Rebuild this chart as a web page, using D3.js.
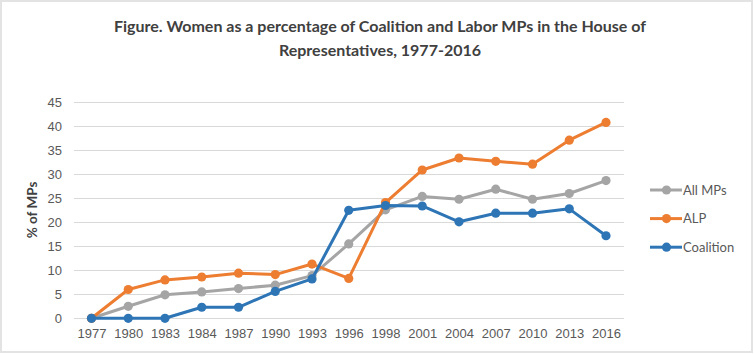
<!DOCTYPE html>
<html>
<head>
<meta charset="utf-8">
<script src="https://cdn.jsdelivr.net/npm/d3@7"></script>
<style>
  body { margin: 0; background: #fff; }
  svg { display: block; font-family: Lato, "Open Sans", sans-serif; }
  .grid line { stroke: #d9d9d9; stroke-width: 1; }
  .axis text { fill: #595959; font-size: 13px; }
</style>
</head>
<body>
<svg id="chart" width="754" height="354"></svg>
<script>
// Election years
const categories = ['1977','1980','1983','1984','1987','1990','1993','1996','1998','2001','2004','2007','2010','2013','2016'];

// % women
const allMPs    = [0, 2.5, 4.9, 5.5, 6.2, 6.9, 8.9, 15.5, 22.6, 25.4, 24.8, 26.9, 24.8, 26.0, 28.7];
const alp       = [0, 6.0, 8.0, 8.6, 9.4, 9.1, 11.3, 8.3, 24.1, 30.9, 33.4, 32.7, 32.1, 37.1, 40.8];
const coalition = [0, 0, 0, 2.3, 2.3, 5.6, 8.2, 22.5, 23.5, 23.4, 20.1, 21.9, 21.9, 22.8, 17.2];

const yTicks = [0, 5, 10, 15, 20, 25, 30, 35, 40, 45];

const series = [
  { name: 'All MPs',   values: allMPs,    color: '#a5a5a5' },
  { name: 'ALP',       values: alp,       color: '#ed7d31' },
  { name: 'Coalition', values: coalition, color: '#2e75b6' }
];

const svg = d3.select('#chart');

// outer frame
svg.append('rect')
  .attr('x', 1).attr('y', 1).attr('width', 751).attr('height', 351)
  .attr('fill', '#fff').attr('stroke', '#e3e3e3').attr('stroke-width', 2);

// title
const title = svg.append('text')
  .attr('text-anchor', 'middle')
  .attr('fill', '#404040')
  .style('font-size', '16px')
  .style('font-weight', 'bold');
title.append('tspan').attr('x', 380).attr('y', 32)
  .text('Figure. Women as a percentage of Coalition and Labor MPs in the House of');
title.append('tspan').attr('x', 380).attr('y', 56)
  .text('Representatives, 1977-2016');

const x = d3.scalePoint()
  .domain(categories)
  .range([91.5, 606])

const y = d3.scaleLinear()
  .domain([0, 45])
  .range([318.3, 102.3]);

// gridlines
svg.append('g').attr('class', 'grid')
  .selectAll('line').data(yTicks)
  .enter().append('line')
    .attr('x1', 74).attr('x2', 624)
    .attr('y1', d => Math.round(y(d)) + 0.5)
    .attr('y2', d => Math.round(y(d)) + 0.5);

// y axis labels
const yAxis = svg.append('g').attr('class', 'axis')
  .attr('transform', 'translate(62,0)')
  .call(d3.axisLeft(y).tickValues(yTicks).tickSize(0).tickPadding(0));
yAxis.select('.domain').remove();
yAxis.selectAll('text').style('font-size', '13px').attr('fill', '#595959').style('font-family', null);

// x axis labels
const xAxis = svg.append('g').attr('class', 'axis')
  .attr('transform', 'translate(0,329)')
  .call(d3.axisBottom(x).tickSize(0).tickPadding(0));
xAxis.select('.domain').remove();
xAxis.selectAll('text').style('font-size', '13px').attr('fill', '#595959').attr('dy', '0.71em').style('font-family', null);

// y title
svg.append('text')
  .attr('transform', 'translate(37,210) rotate(-90)')
  .attr('text-anchor', 'middle')
  .attr('fill', '#404040')
  .style('font-size', '13.5px')
  .style('font-weight', 'bold')
  .text('% of MPs');

// lines + markers
const line = d3.line()
  .x((d, i) => x(categories[i]))
  .y(d => y(d));

const seriesGroup = svg.selectAll('.series').data(series)
  .enter().append('g').attr('class', 'series');

seriesGroup.append('path')
  .attr('d', d => line(d.values))
  .attr('fill', 'none')
  .attr('stroke', d => d.color)
  .attr('stroke-width', 3)
  .attr('stroke-linejoin', 'round');

seriesGroup.selectAll('circle')
  .data(d => d.values.map((v, i) => ({ v, i, color: d.color })))
  .enter().append('circle')
    .attr('cx', d => x(categories[d.i]))
    .attr('cy', d => y(d.v))
    .attr('r', 4.6)
    .attr('fill', d => d.color);

// legend
const legend = svg.selectAll('.legend').data(series)
  .enter().append('g')
    .attr('class', 'legend')
    .attr('transform', (d, i) => `translate(650,${190 + i * 28.6})`);

legend.append('line')
  .attr('x1', 0).attr('x2', 32)
  .attr('stroke', d => d.color).attr('stroke-width', 3);
legend.append('circle')
  .attr('cx', 16.5).attr('r', 4.6).attr('fill', d => d.color);
legend.append('text')
  .attr('x', 33).attr('dy', '0.35em')
  .attr('fill', '#595959')
  .style('font-size', '13px')
  .text(d => d.name);
</script>
</body>
</html>
